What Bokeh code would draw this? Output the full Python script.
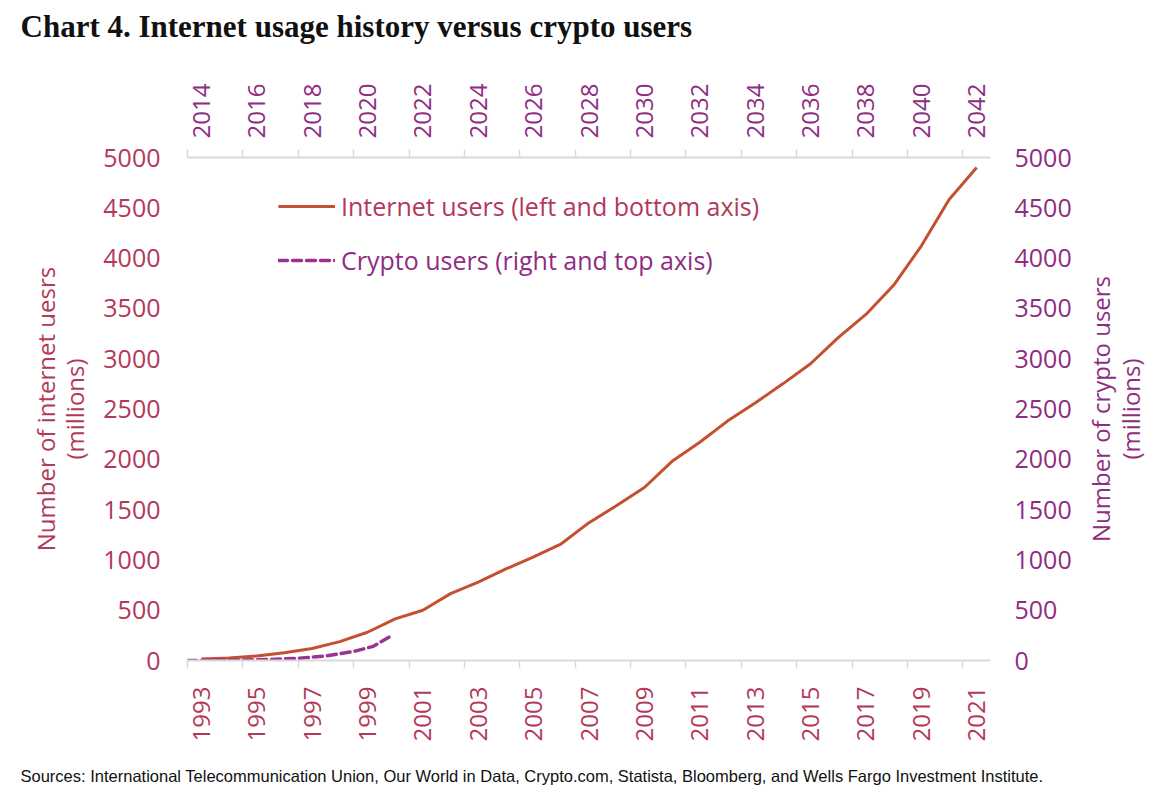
import math
from bokeh.plotting import figure
from bokeh.layouts import row, column
from bokeh.models import Range1d, LinearAxis, FixedTicker, Legend, LegendItem, Title
from bokeh.embed import file_html
from bokeh.resources import INLINE

# ---- data ----
years = list(range(1993, 2022))
internet_users = [14, 25, 45, 77, 120, 188, 281, 414, 500, 665, 780, 910, 1030, 1160,
                  1370, 1540, 1720, 1980, 2170, 2380, 2560, 2750, 2950, 3210, 3440,
                  3730, 4120, 4580, 4900]
crypto_dates = [2013.5, 2014.5, 2015.5, 2016.5, 2017.5, 2018.5, 2019.5, 2020.2, 2020.9]
crypto_users = [0, 2, 5, 10, 22, 46, 90, 140, 252]

bottom_labels = list(range(1993, 2022, 2))
top_labels = list(range(2014, 2043, 2))
y_ticks = list(range(0, 5001, 500))

TITLE = "Chart 4. Internet usage history versus crypto users"
SOURCE = ("Sources: International Telecommunication Union, Our World in Data, Crypto.com, "
          "Statista, Bloomberg, and Wells Fargo Investment Institute.")
LEFT_TITLE = "Number of internet uesrs\n(millions)"
RIGHT_TITLE = "Number of crypto users\n(millions)"

RED_TXT = "#B3385A"
RED_LINE = "#C5502F"
PURPLE = "#8E2D82"
PURPLE_LINE = "#9A3391"
GRID = "#D9D9D9"
FONT = "Open Sans"

TOP_H = 54                 # strip holding the chart title
W, H = 1080, 752           # main chart
W2 = 84                    # strip holding the right-hand axis title
FL, FR = 187, 990          # frame left/right on the canvas
FT, FB = 157 - TOP_H, 660 - TOP_H   # frame top/bottom inside the main chart

# ---- title strip ----
ptop = figure(width=W + W2, height=TOP_H, output_backend="svg", toolbar_location=None,
              x_range=Range1d(0, 1), y_range=Range1d(0, 1),
              x_axis_location=None, y_axis_location=None,
              min_border_left=0, min_border_right=0, min_border_top=0, min_border_bottom=0)
ptop.xgrid.grid_line_color = None
ptop.ygrid.grid_line_color = None
ptop.outline_line_color = None
ptop.title = Title(text=TITLE, align="left", offset=20, standoff=12,
                   text_font="Liberation Serif", text_font_style="bold",
                   text_font_size="31px", text_color="#111111")

# ---- main chart ----
p = figure(width=W, height=H, output_backend="svg", toolbar_location=None,
           x_range=Range1d(1992.5, 2021.5), y_range=Range1d(0, 5000),
           min_border_left=FL, min_border_right=W - FR, min_border_top=FT,
           min_border_bottom=H - FB)
p.extra_x_ranges = {"top": Range1d(2013.5, 2042.5)}
p.extra_y_ranges = {"crypto": Range1d(0, 5000)}
p.xgrid.grid_line_color = None
p.ygrid.grid_line_color = None
p.outline_line_color = None
p.background_fill_color = "white"


def style_x(ax, labels, color, standoff):
    ax.ticker = FixedTicker(ticks=labels, minor_ticks=[v - 0.5 for v in labels])
    ax.major_label_orientation = math.pi / 2
    ax.major_label_text_color = color
    ax.major_label_text_font = FONT
    ax.major_label_text_font_size = "24px"
    ax.major_tick_line_color = None
    ax.major_tick_out = 0
    ax.major_tick_in = 0
    ax.minor_tick_line_color = GRID
    ax.minor_tick_line_width = 1.5
    ax.minor_tick_out = 8
    ax.minor_tick_in = 0
    ax.axis_line_color = GRID
    ax.axis_line_width = 2
    ax.major_label_standoff = standoff


def style_y(ax, color, standoff):
    ax.ticker = FixedTicker(ticks=y_ticks)
    ax.axis_line_color = None
    ax.major_tick_line_color = None
    ax.minor_tick_line_color = None
    ax.major_label_text_color = color
    ax.major_label_text_font = FONT
    ax.major_label_text_font_size = "25px"
    ax.major_label_standoff = standoff


def style_title(ax, color, label, standoff):
    ax.axis_label = label
    ax.axis_label_text_color = color
    ax.axis_label_text_font = FONT
    ax.axis_label_text_font_size = "24px"
    ax.axis_label_text_font_style = "normal"
    ax.axis_label_text_line_height = 0.9
    ax.axis_label_standoff = standoff


style_x(p.xaxis[0], bottom_labels, RED_TXT, 18)
style_y(p.yaxis[0], RED_TXT, 21)
style_title(p.yaxis[0], RED_TXT, LEFT_TITLE, 9)

top_axis = LinearAxis(x_range_name="top")
style_x(top_axis, top_labels, PURPLE, 11)
p.add_layout(top_axis, "above")

right_axis = LinearAxis(y_range_name="crypto")
style_y(right_axis, PURPLE, 18)
p.add_layout(right_axis, "right")

r_int = p.line(years, internet_users, line_color=RED_LINE, line_width=3)
r_cry = p.line(crypto_dates, crypto_users, x_range_name="top", y_range_name="crypto",
               line_color=PURPLE_LINE, line_width=3.5, line_dash="9 5", line_cap="round")


def make_legend(label, rend, color, loc):
    lg = Legend(items=[LegendItem(label=label, renderers=[rend])], location=loc,
                glyph_width=57, glyph_height=24, label_standoff=6, padding=0, margin=0,
                border_line_color=None, background_fill_alpha=0,
                label_text_color=color, label_text_font=FONT,
                label_text_font_size="25px")
    p.add_layout(lg)


make_legend("Internet users (left and bottom axis)", r_int, RED_TXT, (91, 437))
make_legend("Crypto users (right and top axis)", r_cry, PURPLE, (91, 383))

footer = Title(text=SOURCE, align="left", offset=20 - FL, standoff=41,
               text_font="Liberation Sans", text_font_style="normal",
               text_font_size="16.5px", text_color="#111111")
p.add_layout(footer, "below")

# ---- right strip: its left axis carries the crypto title, reading bottom-to-top ----
p2 = figure(width=W2, height=H, output_backend="svg", toolbar_location=None,
            x_range=Range1d(0, 1), y_range=Range1d(0, 5000),
            min_border_left=58, min_border_right=4, min_border_top=FT,
            min_border_bottom=H - FB, x_axis_location=None)
p2.xgrid.grid_line_color = None
p2.ygrid.grid_line_color = None
p2.outline_line_color = None
ax2 = p2.yaxis[0]
ax2.ticker = FixedTicker(ticks=[])
ax2.axis_line_color = None
ax2.major_tick_line_color = None
ax2.minor_tick_line_color = None
style_title(ax2, PURPLE, RIGHT_TITLE, 2)

layout = column(ptop, row(p, p2, spacing=0), spacing=0)
open("out.html", "w").write(file_html(layout, INLINE))
